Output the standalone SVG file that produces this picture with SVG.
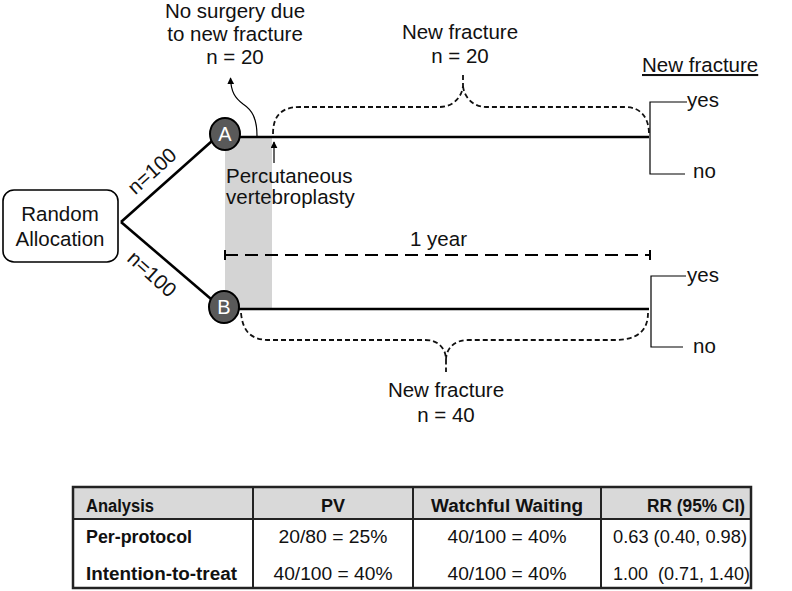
<svg xmlns="http://www.w3.org/2000/svg" width="792" height="591" viewBox="0 0 792 591">
<style>
  text { font-family: "Liberation Sans", Arial, sans-serif; fill: #111; }
  .lbl { font-size: 20.5px; }
  .mid { text-anchor: middle; }
  .thick { stroke: #000; stroke-width: 2.6; fill: none; }
  .thin { stroke: #000; stroke-width: 1.2; fill: none; }
  .brace { stroke: #111; stroke-width: 1.8; fill: none; stroke-dasharray: 5 3; }
  .node circle, .node ellipse { fill: #595959; stroke: #000; stroke-width: 2; }
  .node text { fill: #fff; font-size: 20px; text-anchor: middle; }
  .tb { font-size: 18px; }
  .tbh { font-size: 18px; font-weight: bold; }
  .grid { stroke: #222; stroke-width: 2; fill: none; }
</style>
<defs>
  <marker id="arr" viewBox="0 0 10 10" refX="9" refY="5" markerWidth="7" markerHeight="7" markerUnits="userSpaceOnUse" orient="auto">
    <path d="M0,0 L10,5 L0,10 z" fill="#000"/>
  </marker>
</defs>

<rect x="225" y="138" width="47" height="170" fill="#d4d4d4"/>

<g id="connectors">
  <path class="thick" d="M121,222 L212,141"/>
  <path class="thick" d="M121,222 L211,299"/>
  <path class="thick" d="M239,137 L649,137"/>
  <path class="thick" d="M238,309 L649,309"/>
  <path class="brace" d="M273,134 C273,115 282,107 300,107 L440,107 C453,107 462,97 463,86 L463,75 M463,86 C464,97 473,107 486,107 L625,107 C641,107 649,118 649,134"/>
  <path class="brace" d="M241,313 C243,333 252,340 270,340 L425,340 C438,340 446,348 446,360 L446,372 M446,360 C446,348 455,340 468,340 L615,340 C638,340 648,330 648,313"/>
  <path class="thin" d="M257,136 C257,118 252,110 243,104 C235,98 231,92 230.5,78" marker-end="url(#arr)"/>
  <path class="thin" d="M274,163 L274,142" marker-end="url(#arr)"/>
  <g stroke="#000" stroke-width="2" fill="none">
    <path d="M225,255 L650,255" stroke-dasharray="13 7"/>
    <path d="M225,250 L225,260 M650,250 L650,260"/>
  </g>
  <polyline class="thin" points="687,102 650,102 650,174 685,174"/>
  <polyline class="thin" points="686,276 651,276 651,347 683,347"/>
</g>

<g id="random">
  <rect x="3" y="190" width="115" height="72" rx="11" ry="11" fill="#fff" stroke="#000" stroke-width="1.6"/>
  <text class="lbl mid" x="60" y="221">Random</text>
  <text class="lbl mid" x="60" y="246">Allocation</text>
</g>

<g id="nodeA" class="node">
  <ellipse cx="225" cy="134" rx="15" ry="16"/>
  <text x="225" y="141">A</text>
</g>
<g id="nodeB" class="node">
  <ellipse cx="224" cy="307" rx="15" ry="16"/>
  <text x="224" y="314">B</text>
</g>

<g id="labels">
  <text class="lbl" font-size="18" text-anchor="middle" transform="translate(152,171) rotate(-42)" y="7">n=100</text>
  <text class="lbl" font-size="18" text-anchor="middle" transform="translate(152,274) rotate(42)" y="7">n=100</text>
  <text class="lbl mid" x="235" y="18">No surgery due</text>
  <text class="lbl mid" x="235" y="41">to new fracture</text>
  <text class="lbl mid" x="235" y="64">n = 20</text>
  <text class="lbl mid" x="460" y="39">New fracture</text>
  <text class="lbl mid" x="460" y="63">n = 20</text>
  <text class="lbl" x="642" y="72" text-decoration="underline">New fracture</text>
  <text class="lbl" x="687" y="107">yes</text>
  <text class="lbl" x="693" y="178">no</text>
  <text class="lbl" x="687" y="282">yes</text>
  <text class="lbl" x="693" y="353">no</text>
  <text class="lbl" x="226" y="183">Percutaneous</text>
  <text class="lbl" x="226" y="204">vertebroplasty</text>
  <text class="lbl" x="410" y="246">1 year</text>
  <text class="lbl mid" x="446" y="397">New fracture</text>
  <text class="lbl mid" x="446" y="422">n = 40</text>
</g>

<g id="table">
  <rect x="73" y="487" width="678" height="32" fill="#d9d9d9"/>
  <rect x="73" y="487" width="678" height="101" fill="none" stroke="#222" stroke-width="2.5"/>
  <path class="grid" d="M73,519 L751,519 M253,487 L253,588 M413,487 L413,588 M601,487 L601,588"/>
  <text class="tbh" x="86" y="512" textLength="68" lengthAdjust="spacingAndGlyphs">Analysis</text>
  <text class="tbh mid" x="333" y="512">PV</text>
  <text class="tbh mid" x="507" y="512" textLength="152" lengthAdjust="spacingAndGlyphs">Watchful Waiting</text>
  <text class="tbh" x="647" y="512" textLength="98" lengthAdjust="spacingAndGlyphs">RR (95% CI)</text>
  <text class="tbh" x="86" y="543" textLength="106" lengthAdjust="spacingAndGlyphs">Per-protocol</text>
  <text class="tbh" x="86" y="580" textLength="151" lengthAdjust="spacingAndGlyphs">Intention-to-treat</text>
  <text class="tb mid" x="333" y="543" textLength="109" lengthAdjust="spacingAndGlyphs">20/80 = 25%</text>
  <text class="tb mid" x="333" y="580" textLength="119" lengthAdjust="spacingAndGlyphs">40/100 = 40%</text>
  <text class="tb mid" x="507" y="543" textLength="119" lengthAdjust="spacingAndGlyphs">40/100 = 40%</text>
  <text class="tb mid" x="507" y="580" textLength="119" lengthAdjust="spacingAndGlyphs">40/100 = 40%</text>
  <text class="tb" x="613" y="543" textLength="134" lengthAdjust="spacingAndGlyphs">0.63 (0.40, 0.98)</text>
  <text class="tb" x="613" y="580" textLength="137" lengthAdjust="spacingAndGlyphs">1.00&#160; (0.71, 1.40)</text>
</g>
</svg>
